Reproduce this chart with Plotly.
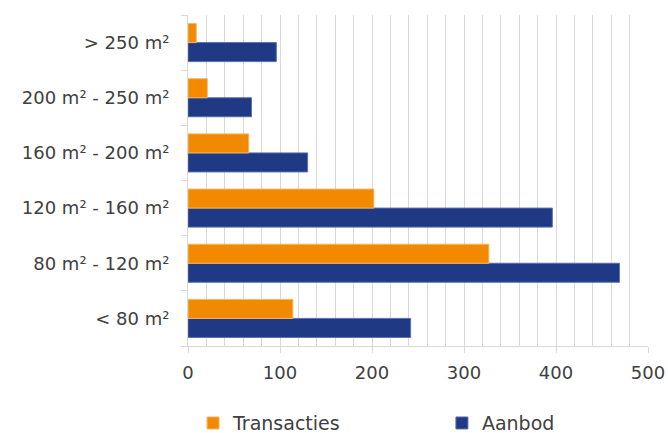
import plotly.graph_objects as go

categories = ["< 80 m²", "80 m² - 120 m²", "120 m² - 160 m²", "160 m² - 200 m²", "200 m² - 250 m²", "> 250 m²"]
transacties = [114, 327, 202, 66, 21, 9]
aanbod = [242, 469, 396, 130, 69, 96]
x_ticks = [0, 100, 200, 300, 400, 500]

ORANGE = "#F28A00"
NAVY = "#1F3985"
FONT = "DejaVu Sans"
TEXT = "#404040"

fig = go.Figure()
fig.add_trace(go.Bar(
    y=categories, x=aanbod, name="Aanbod", orientation="h",
    marker=dict(color=NAVY, line=dict(color="#5A6FB0", width=1)),
    legend="legend2",
))
fig.add_trace(go.Bar(
    y=categories, x=transacties, name="Transacties", orientation="h",
    marker=dict(color=ORANGE, line=dict(color="#F7B566", width=1)),
    legend="legend",
))

legend_common = dict(
    orientation="h", yanchor="middle", xanchor="left", y=-0.233,
    itemwidth=30, borderwidth=0, bgcolor="rgba(0,0,0,0)",
    font=dict(family=FONT, size=19, color=TEXT),
)

fig.update_layout(
    width=668, height=433,
    margin=dict(l=188, r=20, t=15, b=87, autoexpand=False),
    paper_bgcolor="white", plot_bgcolor="white",
    barmode="group", bargap=0.31, bargroupgap=0,
    font=dict(family=FONT, size=18, color=TEXT),
    showlegend=True,
    legend=dict(x=0.011, **legend_common),
    legend2=dict(x=0.552, **legend_common),
    xaxis=dict(
        range=[0, 500], tickvals=x_ticks, ticktext=[str(v) for v in x_ticks],
        showgrid=True, gridcolor="#D9D9D9", gridwidth=1,
        minor=dict(dtick=20, tick0=0, showgrid=True, gridcolor="#D9D9D9", gridwidth=1, ticks=""),
        showline=True, linecolor="#D9D9D9", linewidth=1,
        ticks="outside", ticklen=6, tickcolor="#D9D9D9",
        zeroline=False, automargin=False, ticklabelstandoff=4,
    ),
    yaxis=dict(
        categoryorder="array", categoryarray=categories,
        showline=True, linecolor="#D9D9D9", linewidth=1,
        ticks="outside", ticklen=6, tickcolor="#D9D9D9", tickson="boundaries",
        showgrid=False, zeroline=False, ticklabelstandoff=14, automargin=False,
    ),
)

fig.write_html(
    "out.html",
    config={"displayModeBar": False},
    post_script="document.body.style.margin='0';",
)
